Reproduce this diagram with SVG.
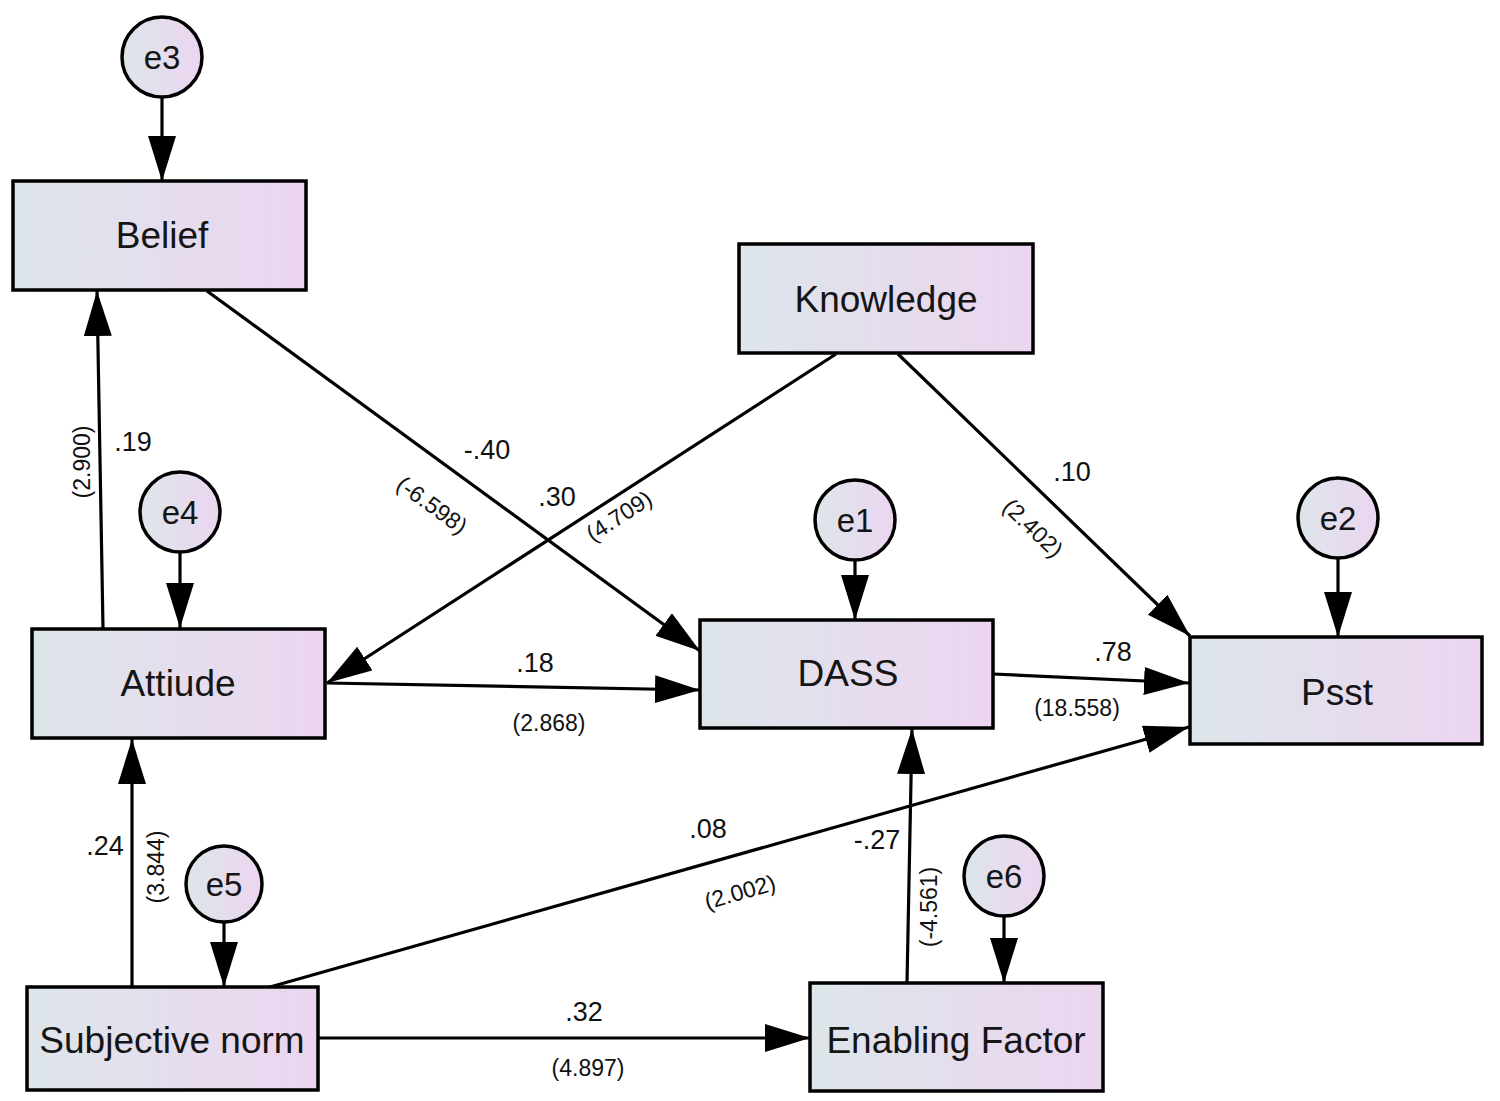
<svg xmlns="http://www.w3.org/2000/svg" width="1500" height="1101" viewBox="0 0 1500 1101">
<defs>
<linearGradient id="g" x1="0" y1="0" x2="1" y2="0">
<stop offset="0" stop-color="#dde6ea"/>
<stop offset="1" stop-color="#ecd5f0"/>
</linearGradient>
<marker id="ah" markerUnits="userSpaceOnUse" markerWidth="48" markerHeight="30" refX="45" refY="14" orient="auto">
<path d="M0,0 L45,14 L0,28 Z" fill="#000"/>
</marker>
</defs>
<style>
.n{fill:url(#g);stroke:#000;stroke-width:3.5}
.t{font-family:"Liberation Sans",Arial,sans-serif;font-size:37px;fill:#151515;text-anchor:middle;dominant-baseline:central}
.et{font-family:"Liberation Sans",Arial,sans-serif;font-size:33px;fill:#151515;text-anchor:middle;dominant-baseline:central}
.c{font-family:"Liberation Sans",Arial,sans-serif;font-size:27px;fill:#111;text-anchor:middle;dominant-baseline:central}
.z{font-family:"Liberation Sans",Arial,sans-serif;font-size:23px;fill:#111;text-anchor:middle;dominant-baseline:central}
.e{fill:none;stroke:#000;stroke-width:3.2;marker-end:url(#ah)}
</style>
<rect width="1500" height="1101" fill="#fff"/>
<g id="connectors">
<line class="e" x1="162" y1="98" x2="162" y2="181"/>
<line class="e" x1="103" y1="628" x2="97" y2="291"/>
<line class="e" x1="207" y1="291" x2="700" y2="651"/>
<line class="e" x1="836" y1="354" x2="327" y2="683"/>
<line class="e" x1="898" y1="354" x2="1190" y2="636"/>
<line class="e" x1="180" y1="552" x2="180" y2="628"/>
<line class="e" x1="327" y1="683" x2="700" y2="690"/>
<line class="e" x1="855" y1="560" x2="855" y2="620"/>
<line class="e" x1="993" y1="674" x2="1189" y2="683"/>
<line class="e" x1="1338" y1="558" x2="1338" y2="637"/>
<line class="e" x1="132" y1="987" x2="132" y2="739"/>
<line class="e" x1="224" y1="922" x2="224" y2="987"/>
<line class="e" x1="270" y1="987" x2="1189" y2="727"/>
<line class="e" x1="318" y1="1038" x2="810" y2="1038"/>
<line class="e" x1="907" y1="983" x2="912" y2="729"/>
<line class="e" x1="1004" y1="917" x2="1004" y2="983"/>
</g>
<g id="labels">
<text class="c" x="133" y="442">.19</text>
<text class="z" transform="translate(82,462) rotate(-90)">(2.900)</text>
<text class="c" x="487" y="450">-.40</text>
<text class="z" transform="translate(432,505) rotate(36)">(-6.598)</text>
<text class="c" x="557" y="497">.30</text>
<text class="z" transform="translate(619,516) rotate(-33)">(4.709)</text>
<text class="c" x="1072" y="472">.10</text>
<text class="z" transform="translate(1033,528) rotate(44)">(2.402)</text>
<text class="c" x="535" y="663">.18</text>
<text class="z" x="549" y="723">(2.868)</text>
<text class="c" x="1113" y="652">.78</text>
<text class="z" x="1077" y="708">(18.558)</text>
<text class="c" x="105" y="846">.24</text>
<text class="z" transform="translate(156,867) rotate(-90)">(3.844)</text>
<text class="c" x="708" y="829">.08</text>
<text class="z" transform="translate(740,892) rotate(-16)">(2.002)</text>
<text class="c" x="877" y="840">-.27</text>
<text class="z" transform="translate(929,907) rotate(-90)">(-4.561)</text>
<text class="c" x="584" y="1012">.32</text>
<text class="z" x="588" y="1068">(4.897)</text>
</g>
<g id="e3"><circle class="n" cx="162" cy="57" r="40"/><text class="et" x="162" y="57">e3</text></g>
<g id="belief"><rect class="n" x="13" y="181" width="293" height="109"/><text class="t" x="162" y="235">Belief</text></g>
<g id="knowledge"><rect class="n" x="739" y="244" width="294" height="109"/><text class="t" x="886" y="299">Knowledge</text></g>
<g id="e4"><circle class="n" cx="180" cy="512" r="40"/><text class="et" x="180" y="512">e4</text></g>
<g id="e1"><circle class="n" cx="855" cy="520" r="40"/><text class="et" x="855" y="520">e1</text></g>
<g id="e2"><circle class="n" cx="1338" cy="518" r="40"/><text class="et" x="1338" y="518">e2</text></g>
<g id="attiude"><rect class="n" x="32" y="629" width="293" height="109"/><text class="t" x="178" y="683">Attiude</text></g>
<g id="dass"><rect class="n" x="700" y="620" width="293" height="108"/><text class="t" x="848" y="673">DASS</text></g>
<g id="psst"><rect class="n" x="1190" y="637" width="292" height="107"/><text class="t" x="1337" y="692">Psst</text></g>
<g id="e5"><circle class="n" cx="224" cy="884" r="38"/><text class="et" x="224" y="884">e5</text></g>
<g id="e6"><circle class="n" cx="1004" cy="876" r="40"/><text class="et" x="1004" y="876">e6</text></g>
<g id="subjective-norm"><rect class="n" x="27" y="987" width="291" height="103"/><text class="t" x="172" y="1040">Subjective norm</text></g>
<g id="enabling-factor"><rect class="n" x="810" y="983" width="293" height="108"/><text class="t" x="956" y="1040">Enabling Factor</text></g>
</svg>
